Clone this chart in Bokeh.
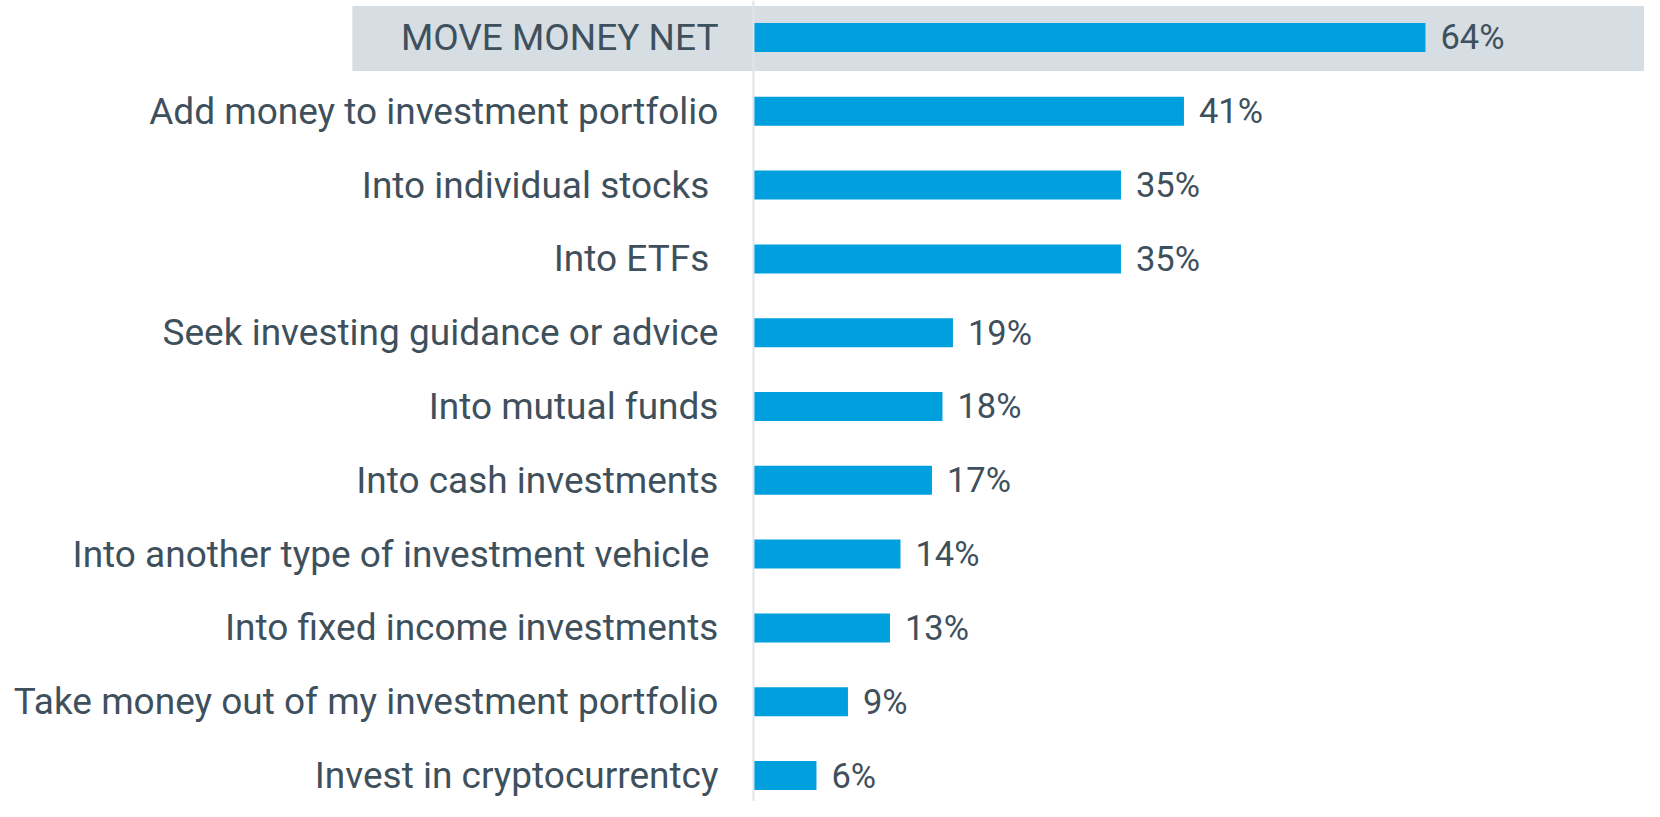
from bokeh.plotting import figure
from bokeh.models import Range1d, Span, ColumnDataSource
from bokeh.core.properties import value
from bokeh.embed import file_html
from bokeh.resources import INLINE

categories = [
    "MOVE MONEY NET",
    "Add money to investment portfolio",
    "Into individual stocks ",
    "Into ETFs ",
    "Seek investing guidance or advice",
    "Into mutual funds",
    "Into cash investments",
    "Into another type of investment vehicle ",
    "Into fixed income investments",
    "Take money out of my investment portfolio",
    "Invest in cryptocurrentcy",
]
values = [64, 41, 35, 35, 19, 18, 17, 14, 13, 9, 6]
value_labels = [f"{v}%" for v in values]
highlight = ["MOVE MONEY NET"]

BLUE = "#00a0df"
TEXT = "#3f505d"
BAND = "#d6dde3"

W, H = 1644, 801
ypos = list(range(len(categories)))

src = ColumnDataSource(dict(y=ypos, v=values, cat=categories, lab=value_labels, zero=[0] * len(values)))

x_start, x_end = -71.71, 84.86
p = figure(width=W, height=H, output_backend="svg", toolbar_location=None,
           x_range=Range1d(x_start, x_end), y_range=Range1d(10.352, -0.501),
           min_border=0, min_border_left=0, min_border_right=0, min_border_top=0, min_border_bottom=0)
p.axis.visible = False
p.grid.visible = False
p.outline_line_color = None
p.background_fill_color = "white"
p.border_fill_color = "white"

# highlight band behind the NET row
hy = [categories.index(h) + 0.0136 for h in highlight]
p.hbar(y=hy, left=[-38.2] * len(hy), right=[x_end] * len(hy), height=0.881,
       fill_color=BAND, line_color=None)

p.add_layout(Span(location=0, dimension="height", line_color="#dfe5eb", line_width=2))

p.hbar(y="y", left="zero", right="v", height=0.393, source=src,
       fill_color=BLUE, line_color=None)

p.text(x="zero", y="y", text="cat", source=src, x_offset=-35,
       text_align="right", text_baseline="middle",
       text_font=value("Roboto"), text_font_size="37px", text_color=TEXT)

p.text(x="v", y="y", text="lab", source=src, x_offset=15,
       text_align="left", text_baseline="middle",
       text_font=value("Roboto"), text_font_size="34.5px", text_color=TEXT)

open("out.html", "w").write(file_html(p, INLINE))
